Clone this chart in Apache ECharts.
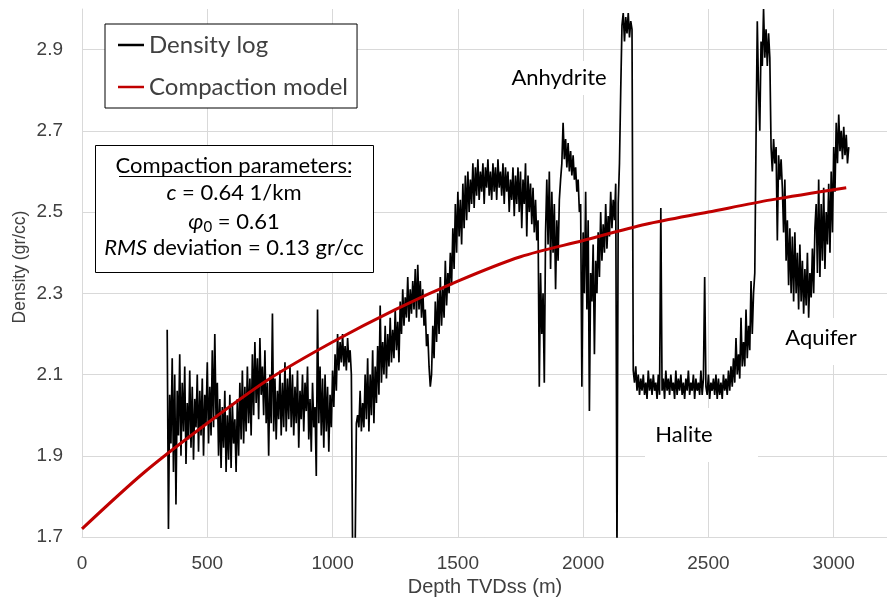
<!DOCTYPE html>
<html>
<head>
<meta charset="utf-8">
<script src="https://cdn.jsdelivr.net/npm/echarts@6/dist/echarts.min.js"></script>
<style>
  html, body { margin: 0; padding: 0; background: #fff; }
  #main { width: 887px; height: 603px; }
</style>
</head>
<body>
<div id="main"></div>
<script>
// density log (depth m / density gr/cc), 5 m samples
const logDepth = [
  340, 345, 350, 355, 360, 365, 370, 375, 380, 385, 390, 395, 400, 405, 410, 415, 420, 425, 430, 435,
  440, 445, 450, 455, 460, 465, 470, 475, 480, 485, 490, 495, 500, 505, 510, 515, 520, 525, 530, 535,
  540, 545, 550, 555, 560, 565, 570, 575, 580, 585, 590, 595, 600, 605, 610, 615, 620, 625, 630, 635,
  640, 645, 650, 655, 660, 665, 670, 675, 680, 685, 690, 695, 700, 705, 710, 715, 720, 725, 730, 735,
  740, 745, 750, 755, 760, 765, 770, 775, 780, 785, 790, 795, 800, 805, 810, 815, 820, 825, 830, 835,
  840, 845, 850, 855, 860, 865, 870, 875, 880, 885, 890, 895, 900, 905, 910, 915, 920, 925, 930, 935,
  940, 945, 950, 955, 960, 965, 970, 975, 980, 985, 990, 995, 1000, 1005, 1010, 1015, 1020, 1025, 1030, 1035,
  1040, 1045, 1050, 1055, 1060, 1065, 1070, 1075, 1080, 1085, 1090, 1095, 1100, 1105, 1110, 1115, 1120, 1125, 1130, 1135,
  1140, 1145, 1150, 1155, 1160, 1165, 1170, 1175, 1180, 1185, 1190, 1195, 1200, 1205, 1210, 1215, 1220, 1225, 1230, 1235,
  1240, 1245, 1250, 1255, 1260, 1265, 1270, 1275, 1280, 1285, 1290, 1295, 1300, 1305, 1310, 1315, 1320, 1325, 1330, 1335,
  1340, 1345, 1350, 1355, 1360, 1365, 1370, 1375, 1380, 1385, 1390, 1395, 1400, 1405, 1410, 1415, 1420, 1425, 1430, 1435,
  1440, 1445, 1450, 1455, 1460, 1465, 1470, 1475, 1480, 1485, 1490, 1495, 1500, 1505, 1510, 1515, 1520, 1525, 1530, 1535,
  1540, 1545, 1550, 1555, 1560, 1565, 1570, 1575, 1580, 1585, 1590, 1595, 1600, 1605, 1610, 1615, 1620, 1625, 1630, 1635,
  1640, 1645, 1650, 1655, 1660, 1665, 1670, 1675, 1680, 1685, 1690, 1695, 1700, 1705, 1710, 1715, 1720, 1725, 1730, 1735,
  1740, 1745, 1750, 1755, 1760, 1765, 1770, 1775, 1780, 1785, 1790, 1795, 1800, 1805, 1810, 1815, 1820, 1825, 1830, 1835,
  1840, 1845, 1850, 1855, 1860, 1865, 1870, 1875, 1880, 1885, 1890, 1895, 1900, 1905, 1910, 1915, 1920, 1925, 1930, 1935,
  1940, 1945, 1950, 1955, 1960, 1965, 1970, 1975, 1980, 1985, 1990, 1995, 2000, 2005, 2010, 2015, 2020, 2025, 2030, 2035,
  2040, 2045, 2050, 2055, 2060, 2065, 2070, 2075, 2080, 2085, 2090, 2095, 2100, 2105, 2110, 2115, 2120, 2125, 2130, 2135,
  2140, 2145, 2150, 2155, 2160, 2165, 2170, 2175, 2180, 2185, 2190, 2195, 2200, 2205, 2210, 2215, 2220, 2225, 2230, 2235,
  2240, 2245, 2250, 2255, 2260, 2265, 2270, 2275, 2280, 2285, 2290, 2295, 2300, 2305, 2310, 2315, 2320, 2325, 2330, 2335,
  2340, 2345, 2350, 2355, 2360, 2365, 2370, 2375, 2380, 2385, 2390, 2395, 2400, 2405, 2410, 2415, 2420, 2425, 2430, 2435,
  2440, 2445, 2450, 2455, 2460, 2465, 2470, 2475, 2480, 2485, 2490, 2495, 2500, 2505, 2510, 2515, 2520, 2525, 2530, 2535,
  2540, 2545, 2550, 2555, 2560, 2565, 2570, 2575, 2580, 2585, 2590, 2595, 2600, 2605, 2610, 2615, 2620, 2625, 2630, 2635,
  2640, 2645, 2650, 2655, 2660, 2665, 2670, 2675, 2680, 2685, 2690, 2695, 2700, 2705, 2710, 2715, 2720, 2725, 2730, 2735,
  2740, 2745, 2750, 2755, 2760, 2765, 2770, 2775, 2780, 2785, 2790, 2795, 2800, 2805, 2810, 2815, 2820, 2825, 2830, 2835,
  2840, 2845, 2850, 2855, 2860, 2865, 2870, 2875, 2880, 2885, 2890, 2895, 2900, 2905, 2910, 2915, 2920, 2925, 2930, 2935,
  2940, 2945, 2950, 2955, 2960, 2965, 2970, 2975, 2980, 2985, 2990, 2995, 3000, 3005, 3010, 3015, 3020, 3025, 3030, 3035,
  3040, 3045, 3050, 3055, 3060
]
const logRho = [
  2.21, 1.72, 2.05, 1.93, 2.14, 1.86, 2.10, 1.78, 2.06, 1.95, 2.15, 1.90, 2.08, 1.96, 2.12, 1.88, 2.03, 1.94, 2.11, 1.92,
  2.07, 1.89, 2.04, 1.97, 2.10, 1.91, 2.06, 1.95, 2.09, 1.90, 2.05, 1.98, 2.13, 1.93, 2.07, 1.95, 2.16, 1.97, 2.20, 1.99,
  2.08, 1.90, 2.04, 1.87, 2.02, 1.92, 2.06, 1.86, 2.00, 1.89, 2.05, 1.87, 2.03, 1.93, 1.99, 1.86, 2.04, 1.90, 2.08, 1.94,
  2.11, 1.93, 2.07, 1.96, 2.12, 1.98, 2.09, 1.95, 2.15, 2.00, 2.18, 2.03, 2.14, 1.99, 2.19, 2.05, 2.12, 2.00, 2.16, 1.98,
  2.08, 1.90, 2.10, 1.98, 2.25, 1.96, 2.09, 1.94, 2.06, 1.99, 2.11, 1.95, 2.08, 1.97, 2.13, 1.96, 2.09, 1.99, 2.12, 1.97,
  2.10, 1.95, 2.07, 1.98, 2.11, 1.92, 2.06, 1.99, 2.10, 1.96, 2.08, 2.01, 2.12, 1.94, 2.04, 1.91, 2.08, 1.97, 2.02, 1.85,
  2.26, 1.98, 2.12, 1.95, 2.09, 1.92, 2.10, 1.96, 2.07, 1.91, 2.05, 1.97, 2.11, 2.02, 2.15, 2.06, 2.20, 2.11, 2.18, 2.13,
  2.20, 2.12, 2.17, 2.11, 2.19, 2.13, 2.16, 2.10, 1.66, 1.66, 1.66, 1.98, 2.00, 1.97, 2.06, 1.96, 2.03, 1.97, 2.10, 1.99,
  2.14, 1.96, 2.10, 2.00, 2.16, 1.98, 2.12, 2.03, 2.17, 2.05, 2.27, 2.08, 2.18, 2.10, 2.22, 2.09, 2.20, 2.12, 2.24, 2.13,
  2.21, 2.14, 2.26, 2.16, 2.23, 2.13, 2.28, 2.20, 2.31, 2.22, 2.29, 2.24, 2.34, 2.23, 2.31, 2.25, 2.33, 2.26, 2.36, 2.24,
  2.37, 2.26, 2.33, 2.24, 2.31, 2.22, 2.26, 2.17, 2.20, 2.12, 2.07, 2.10, 2.22, 2.14, 2.28, 2.18, 2.30, 2.20, 2.34, 2.22,
  2.31, 2.24, 2.38, 2.27, 2.35, 2.30, 2.40, 2.32, 2.46, 2.36, 2.52, 2.40, 2.55, 2.44, 2.53, 2.42, 2.57, 2.46, 2.59, 2.48,
  2.60, 2.50, 2.58, 2.52, 2.62, 2.51, 2.61, 2.54, 2.63, 2.53, 2.60, 2.55, 2.62, 2.52, 2.61, 2.56, 2.63, 2.54, 2.60, 2.53,
  2.62, 2.55, 2.61, 2.53, 2.63, 2.56, 2.60, 2.54, 2.62, 2.52, 2.61, 2.55, 2.60, 2.50, 2.58, 2.53, 2.61, 2.49, 2.59, 2.52,
  2.61, 2.50, 2.60, 2.46, 2.58, 2.52, 2.62, 2.44, 2.59, 2.50, 2.57, 2.47, 2.56, 2.45, 2.53, 2.43, 2.48, 2.07, 2.35, 2.20,
  2.30, 2.08, 2.45, 2.58, 2.42, 2.60, 2.36, 2.55, 2.40, 2.52, 2.31, 2.48, 2.38, 2.53, 2.58, 2.62, 2.72, 2.63, 2.68, 2.61,
  2.67, 2.60, 2.65, 2.59, 2.64, 2.58, 2.61, 2.55, 2.58, 2.50, 2.52, 2.07, 2.45, 2.30, 2.55, 2.26, 2.48, 2.01, 2.35, 2.28,
  2.42, 2.15, 2.38, 2.30, 2.45, 2.34, 2.50, 2.38, 2.47, 2.40, 2.52, 2.41, 2.49, 2.44, 2.55, 2.46, 2.53, 2.48, 2.57, 1.65,
  2.52, 2.62, 2.80, 2.96, 2.99, 2.92, 2.98, 2.94, 2.99, 2.93, 2.97, 2.95, 2.11, 2.08, 2.12, 2.06, 2.10, 2.05, 2.09, 2.06,
  2.10, 2.05, 2.08, 2.04, 2.11, 2.06, 2.09, 2.05, 2.10, 2.06, 2.08, 2.04, 2.10, 2.05, 2.51, 2.06, 2.09, 2.04, 2.11, 2.06,
  2.09, 2.05, 2.10, 2.06, 2.08, 2.04, 2.11, 2.05, 2.09, 2.06, 2.10, 2.05, 2.08, 2.04, 2.09, 2.06, 2.11, 2.05, 2.08, 2.06,
  2.10, 2.04, 2.09, 2.06, 2.08, 2.05, 2.11, 2.05, 2.09, 2.34, 2.07, 2.05, 2.10, 2.04, 2.08, 2.06, 2.09, 2.05, 2.10, 2.04,
  2.09, 2.05, 2.08, 2.04, 2.10, 2.06, 2.09, 2.05, 2.11, 2.06, 2.12, 2.07, 2.14, 2.08, 2.19, 2.10, 2.15, 2.09, 2.24, 2.12,
  2.18, 2.12, 2.26, 2.14, 2.22, 2.16, 2.33, 2.20, 2.30, 2.35, 2.68, 2.97, 2.80, 2.70, 2.92, 2.86, 3.00, 2.88, 2.95, 2.86,
  2.94, 2.88, 2.66, 2.60, 2.68, 2.62, 2.66, 2.43, 2.64, 2.58, 2.63, 2.56, 2.45, 2.58, 2.38, 2.48, 2.32, 2.46, 2.30, 2.44,
  2.28, 2.45, 2.30, 2.40, 2.26, 2.42, 2.28, 2.38, 2.25, 2.36, 2.27, 2.40, 2.24, 2.35, 2.29, 2.41, 2.30, 2.46, 2.52, 2.35,
  2.58, 2.34, 2.52, 2.38, 2.56, 2.36, 2.50, 2.42, 2.57, 2.40, 2.60, 2.45, 2.66, 2.55, 2.72, 2.62, 2.74, 2.65, 2.70, 2.63,
  2.71, 2.64, 2.69, 2.62, 2.66
]
// compaction model curve
const modelDepth = [0, 250, 500, 750, 1000, 1250, 1500, 1750, 2000, 2250, 2500, 2750, 3050]
const modelRho = [1.72, 1.86, 1.98, 2.09, 2.18, 2.26, 2.33, 2.39, 2.43, 2.47, 2.50, 2.53, 2.56]

const seriesNames = ['Density log', 'Compaction model']

const chart = echarts.init(document.getElementById('main'))
const zip = (xs, ys) => xs.map((x, i) => [x, ys[i]])

const labelFont = 'Liberation Sans'
const boxFont = 'Lato'
const gridColor = '#d9d9d9'

const centered = { align: 'center', textAlign: 'center', verticalAlign: 'middle', textVerticalAlign: 'middle' }

const option = {
  animation: false,
  // axis runs past the right edge of the picture (cropped chart)
  grid: { left: 82, top: 9, right: -72, bottom: 66, outerBoundsMode: 'none', containLabel: false },
  legend: {
    left: 105,
    top: 24,
    orient: 'vertical',
    backgroundColor: '#fff',
    borderColor: '#000',
    borderWidth: 1,
    borderRadius: 0,
    padding: [9, 9, 9, 13],
    itemGap: 18,
    itemWidth: 26,
    itemHeight: 2.5,
    icon: 'rect',
    textStyle: { fontFamily: boxFont, fontSize: 24, color: '#404040' },
    data: seriesNames
  },
  xAxis: {
    type: 'value',
    min: 0,
    max: 3500,
    interval: 500,
    axisLine: { show: true, lineStyle: { color: gridColor, width: 1 } },
    axisTick: { show: false },
    axisLabel: {
      fontFamily: labelFont,
      fontSize: 19,
      color: '#404040',
      margin: 17,
      formatter: v => String(v)
    },
    splitLine: { show: true, lineStyle: { color: gridColor, width: 1 } }
  },
  yAxis: {
    type: 'value',
    min: 1.7,
    max: 3.0,
    interval: 0.1,
    axisLine: { show: true, lineStyle: { color: gridColor, width: 1 } },
    axisTick: { show: false },
    axisLabel: {
      fontFamily: labelFont,
      fontSize: 19,
      color: '#404040',
      margin: 19,
      formatter: function (v) {
        const k = Math.round(v * 10)
        return k % 2 === 1 ? (k / 10).toFixed(1) : ''
      }
    },
    // only every second line (1.7, 1.9, ...) is drawn
    splitLine: { show: true, lineStyle: { color: [gridColor, 'rgba(0,0,0,0)'], width: 1 } }
  },
  series: [
    {
      name: seriesNames[0],
      type: 'line',
      showSymbol: false,
      symbol: 'none',
      clip: true,
      color: '#000',
      lineStyle: { color: '#000', width: 1.7 },
      data: zip(logDepth, logRho)
    },
    {
      name: seriesNames[1],
      type: 'line',
      showSymbol: false,
      symbol: 'none',
      smooth: 0.3,
      color: '#c00000',
      lineStyle: { color: '#c00000', width: 3 },
      data: zip(modelDepth, modelRho)
    }
  ],
  graphic: [
    {
      type: 'rect',
      z: 100,
      shape: { x: 95.5, y: 145.5, width: 278, height: 127 },
      style: { fill: '#fff', stroke: '#000', lineWidth: 1 }
    },
    {
      type: 'text',
      z: 101,
      x: 234,
      y: 166,
      style: Object.assign({ text: 'Compaction parameters:', font: '22px ' + boxFont, fill: '#000' }, centered)
    },
    {
      type: 'line',
      z: 101,
      shape: { x1: 119, y1: 176.5, x2: 351, y2: 176.5 },
      style: { stroke: '#000', lineWidth: 1.2 }
    },
    {
      type: 'text',
      z: 101,
      x: 234,
      y: 193,
      style: Object.assign({
        text: '{i|c}{n| = 0.64 1/km}',
        rich: {
          i: { fontFamily: boxFont, fontSize: 22, fontStyle: 'italic', color: '#000' },
          n: { fontFamily: boxFont, fontSize: 22, color: '#000' }
        }
      }, centered)
    },
    {
      type: 'text',
      z: 101,
      x: 234,
      y: 222,
      style: Object.assign({
        text: '{i|\u03C6}{s|0}{n| = 0.61}',
        rich: {
          i: { fontFamily: boxFont, fontSize: 22, fontStyle: 'italic', color: '#000' },
          s: { fontFamily: boxFont, fontSize: 15, color: '#000', verticalAlign: 'bottom', padding: [10, 0, 0, 0] },
          n: { fontFamily: boxFont, fontSize: 22, color: '#000' }
        }
      }, centered)
    },
    {
      type: 'text',
      z: 101,
      x: 234,
      y: 248,
      style: Object.assign({
        text: '{i|RMS}{n| deviation = 0.13 gr/cc}',
        rich: {
          i: { fontFamily: boxFont, fontSize: 22, fontStyle: 'italic', color: '#000' },
          n: { fontFamily: boxFont, fontSize: 22, color: '#000' }
        }
      }, centered)
    },
    // formation labels
    {
      type: 'text',
      z: 101,
      x: 559,
      y: 78,
      style: Object.assign({
        text: 'Anhydrite',
        font: '22px ' + boxFont,
        fill: '#000',
        backgroundColor: '#fff',
        padding: [6, 6]
      }, centered)
    },
    {
      type: 'rect',
      z: 100,
      shape: { x: 645, y: 408, width: 113, height: 54 },
      style: { fill: '#fff' }
    },
    {
      type: 'text',
      z: 101,
      x: 684,
      y: 435,
      style: Object.assign({ text: 'Halite', font: '22px ' + boxFont, fill: '#000' }, centered)
    },
    {
      type: 'rect',
      z: 100,
      shape: { x: 772, y: 318, width: 115, height: 47 },
      style: { fill: '#fff' }
    },
    {
      type: 'text',
      z: 101,
      x: 821,
      y: 338,
      style: Object.assign({ text: 'Aquifer', font: '22px ' + boxFont, fill: '#000' }, centered)
    },
    // axis titles
    {
      type: 'text',
      x: 485,
      y: 587,
      style: Object.assign({ text: 'Depth TVDss (m)', font: '20px "' + labelFont + '"', fill: '#404040' }, centered)
    },
    {
      type: 'text',
      x: 20,
      y: 267,
      rotation: Math.PI / 2,
      style: Object.assign({ text: 'Density (gr/cc)', font: '17.5px "' + labelFont + '"', fill: '#404040' }, centered)
    }
  ]
}

chart.setOption(option)
</script>
</body>
</html>
